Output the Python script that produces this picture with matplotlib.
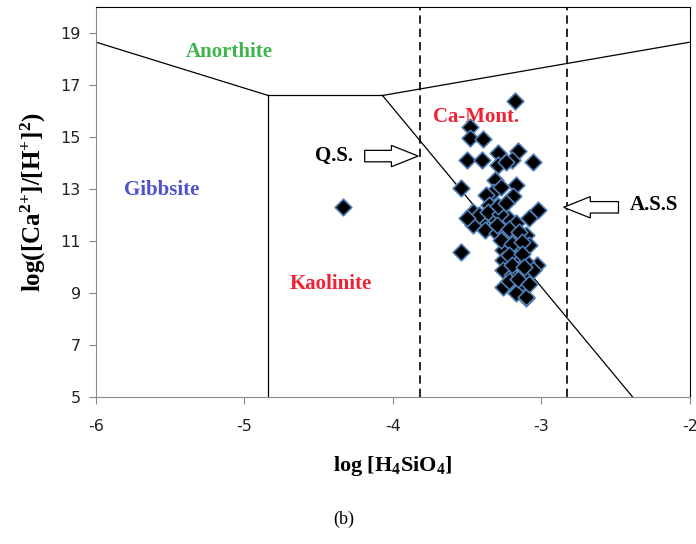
import matplotlib
matplotlib.use("Agg")
import matplotlib.pyplot as plt
from matplotlib.patches import FancyArrow

plt.rcParams["mathtext.fontset"] = "custom"
plt.rcParams["mathtext.rm"] = "Liberation Serif:bold"
plt.rcParams["mathtext.it"] = "Liberation Serif:bold"
plt.rcParams["mathtext.bf"] = "Liberation Serif:bold"

# stability field boundaries
gib_an_x = [-6.0, -4.84]
gib_an_y = [18.65, 16.6]
gib_kao_x = [-4.84, -4.84]
gib_kao_y = [16.6, 5.0]
kao_an_x = [-4.84, -4.07]
kao_an_y = [16.6, 16.6]
mont_an_x = [-4.07, -2.0]
mont_an_y = [16.6, 18.65]
kao_mont_x = [-4.07, -2.384]
kao_mont_y = [16.6, 5.0]

# saturation lines
quartz_sat = -3.82
amorph_sat = -2.83

# samples
log_si = [-3.18, -3.48, -3.48, -3.39, -3.50, -3.40, -3.29, -3.16, -3.20, -3.29,
          -3.24, -3.055, -3.54, -3.31, -3.17, -3.325, -3.19, -3.37, -3.27, -4.335,
          -3.02, -3.08, -3.54, -3.10,
          -3.46, -3.35, -3.41, -3.32, -3.225, -3.17, -3.46, -3.38, -3.30, -3.225,
          -3.10, -3.26, -3.17, -3.08, -3.26, -3.17, -3.03, -3.10, -3.26, -3.20,
          -3.10, -3.145, -3.17, -3.10, -3.26, -3.055,
          -3.42, -3.36, -3.28, -3.30, -3.22, -3.15, -3.27, -3.20, -3.13, -3.22,
          -3.13, -3.20, -3.12, -3.22, -3.16, -3.08, -3.29, -3.24, -3.50]
log_ca = [16.40, 15.40, 14.95, 14.91, 14.12, 14.12, 14.37, 14.46, 14.12, 13.92,
          14.05, 14.05, 13.03, 13.35, 13.15, 12.90, 12.73, 12.77, 13.09, 12.32,
          12.19, 11.87, 10.59, 8.80,
          12.13, 12.38, 11.81, 11.88, 11.88, 11.69, 11.62, 11.42, 11.31, 11.12,
          11.23, 10.65, 10.65, 10.85, 10.27, 10.35, 10.08, 10.20, 9.88, 9.69,
          9.63, 9.31, 8.99, 8.86, 9.24, 9.88,
          12.00, 12.10, 12.05, 11.60, 11.45, 11.35, 11.05, 10.90, 10.95, 10.45,
          10.50, 10.10, 10.00, 9.45, 9.55, 9.35, 12.35, 12.45, 11.90]

xticks = [-6, -5, -4, -3, -2]
yticks = [5, 7, 9, 11, 13, 15, 17, 19]

serif = "Liberation Serif"

fig = plt.figure(figsize=(6.96, 5.44), dpi=100)
ax = fig.add_axes([0.138, 0.270, 0.853, 0.717])

for xs, ys in [(gib_an_x, gib_an_y), (gib_kao_x, gib_kao_y), (kao_an_x, kao_an_y),
               (mont_an_x, mont_an_y), (kao_mont_x, kao_mont_y)]:
    ax.plot(xs, ys, color="black", lw=0.9)

for xv in (quartz_sat, amorph_sat):
    ax.plot([xv, xv], [5, 20], color="black", lw=1.2, ls=(0, (5, 3)))

ax.scatter(log_si, log_ca, marker="D", s=72, c="black", edgecolors="#4f7fb8",
           linewidths=1.2, zorder=5)

# region labels
lab = dict(fontfamily=serif, fontweight="bold", fontsize=15, ha="center", va="center")
ax.text(-5.10, 18.27, "Anorthite", color="#3db54a", **lab)
ax.text(-5.56, 12.96, "Gibbsite", color="#5050d0", **lab)
ax.text(-4.42, 9.35, "Kaolinite", color="#ee2233", **lab)
ax.text(-3.44, 15.77, "Ca-Mont.", color="#ee2233", **lab)
ax.text(-4.40, 14.27, "Q.S.", color="black", **lab)
ax.text(-2.24, 12.38, "A.S.S", color="black", **lab)

# hollow arrows pointing at the saturation lines
ax.add_patch(FancyArrow(-4.19, 14.27, 0.36, 0, width=0.44, head_width=0.82,
                        head_length=0.18, length_includes_head=True,
                        fc="white", ec="black", lw=0.9, zorder=6))
ax.add_patch(FancyArrow(-2.48, 12.30, -0.37, 0, width=0.44, head_width=0.82,
                        head_length=0.18, length_includes_head=True,
                        fc="white", ec="black", lw=0.9, zorder=6))

ax.set_xlim(-6, -2)
ax.set_ylim(5, 20)
ax.set_xticks(xticks)
ax.set_yticks(yticks)
ax.set_xticklabels([str(t) for t in xticks])
ax.tick_params(direction="out", length=5, width=0.8, color="#888888",
               labelsize=11.5, labelcolor="#222222")
ax.tick_params(axis="x", pad=11)
ax.tick_params(axis="y", pad=6)
ax.spines["left"].set_color("#888888")
ax.spines["bottom"].set_color("#888888")
ax.spines["top"].set_color("black")
ax.spines["right"].set_color("black")

ax.set_xlabel(r"log [H$_4$SiO$_4$]", fontfamily=serif, fontweight="bold",
              fontsize=16, labelpad=14)
ax.set_ylabel(r"log([Ca$^{2{+}}$]/[H$^{{+}}$]$^{2}$)", fontfamily=serif,
              fontweight="bold", fontsize=18, labelpad=9)

fig.text(0.494, 0.045, "(b)", fontfamily=serif, fontsize=13, ha="center", va="center")

fig.savefig("out.png", dpi=100)
